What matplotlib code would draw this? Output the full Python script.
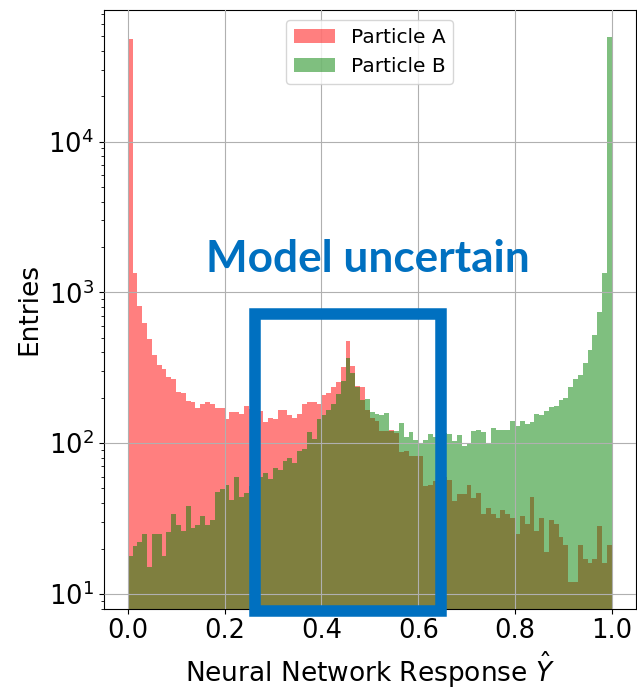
import numpy as np
import matplotlib
matplotlib.use("Agg")
import matplotlib.pyplot as plt
from matplotlib.patches import Rectangle

# histogram contents, 100 bins over [0, 1]
bin_edges = np.linspace(0.0, 1.0, 101)

particle_a = [
    47800, 1337, 816, 630, 488, 384, 328, 310, 275, 268,
    217, 214, 189, 186, 170, 181, 188, 183, 172, 172,
    144, 161, 161, 156, 176, 168, 160, 164, 139, 147,
    145, 165, 165, 153, 146, 156, 181, 187, 187, 183,
    207, 214, 237, 254, 318, 477, 324, 240, 234, 165,
    146, 141, 121, 121, 123, 117, 87, 89, 82, 82,
    82, 52, 53, 56, 60, 60, 57, 41, 46, 46,
    53, 43, 47, 34, 37, 34, 32, 36, 34, 32,
    25, 33, 29, 44, 26, 32, 19, 31, 29, 24,
    21, 12, 12, 21, 17, 16, 17, 28, 16, 21,
]

particle_b = [
    17.9, 20.9, 22, 24.9, 15.1, 24.9, 24.9, 17.9, 25.9, 33.8,
    28.8, 26, 38.2, 27.2, 28.8, 32.7, 28.8, 31, 47.5, 49.8,
    52.9, 41.9, 59.4, 44.1, 46.4, 52, 56, 59.2, 63, 58.2,
    68.9, 66.2, 76.4, 79.5, 73.6, 88.5, 91.7, 118, 106, 145,
    153, 167, 181, 212, 259, 365, 290, 236, 193, 195,
    161, 157, 153, 159, 120, 120, 135, 110, 118, 105,
    100, 105, 115, 110, 106, 116, 115, 103, 113, 96,
    100, 120, 122, 119, 100, 125, 123, 122, 122, 141,
    130, 141, 133, 139, 157, 153, 164, 174, 177, 193,
    200, 237, 267, 284, 338, 414, 521, 736, 1337, 49100,
]

labels = ["Particle A", "Particle B"]

fig = plt.figure(figsize=(6.37, 6.9), dpi=100)
ax = fig.add_axes([0.1625, 0.1181, 0.836, 0.8674])

ax.hist(bin_edges[:-1], bins=bin_edges, weights=particle_a, color="red",
        alpha=0.5, histtype="stepfilled", log=True, label=labels[0])
ax.hist(bin_edges[:-1], bins=bin_edges, weights=particle_b, color="green",
        alpha=0.5, histtype="stepfilled", log=True, label=labels[1])

ax.set_xlim(-0.05, 1.05)
ax.set_ylim(8, 74500)
ax.set_xticks([0.0, 0.2, 0.4, 0.6, 0.8, 1.0])
ax.tick_params(axis="both", which="major", labelsize=18.5)
ax.grid(True)
ax.set_axisbelow(False)

ax.set_xlabel(r"Neural Network Response $\hat{Y}$", fontsize=19)
ax.set_ylabel("Entries", fontsize=19)
ax.legend(loc="upper center", fontsize=14.5)

# annotation box + text on top of the plot
blue = "#0070C0"
box = Rectangle((0.4002, 0.1139), 0.2918, 0.4306, transform=fig.transFigure,
                fill=False, edgecolor=blue, linewidth=8.3, clip_on=False,
                joinstyle="miter")
fig.patches.append(box)
fig.text(0.5775, 0.6062, "Model uncertain", color=blue, fontsize=31.8,
         fontweight="bold", family=["Lato", "DejaVu Sans"],
         ha="center", va="baseline")

fig.savefig("out.png", dpi=100)
